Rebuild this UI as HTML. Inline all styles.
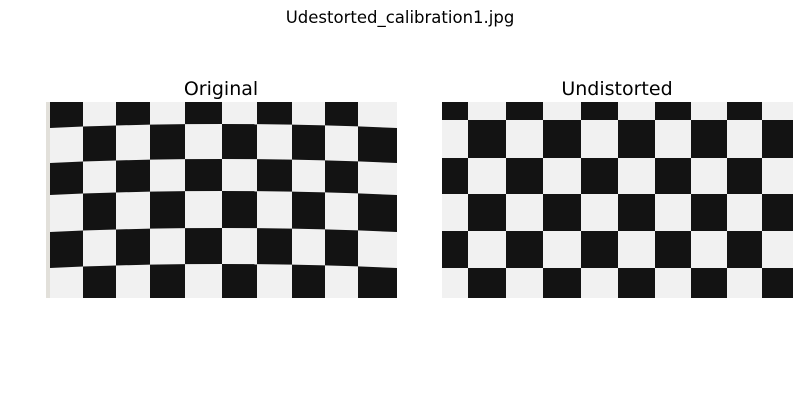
<!DOCTYPE html>
<html><head><meta charset="utf-8"><style>
body{margin:0;background:#fff;width:800px;height:400px;overflow:hidden;font-family:"DejaVu Sans","Liberation Sans",sans-serif}
</style></head><body>
<svg width="800" height="400">
<text x="400" y="23" text-anchor="middle" font-size="16.5" fill="#000">Udestorted_calibration1.jpg</text>
<text x="221" y="95" text-anchor="middle" font-size="19" fill="#000">Original</text>
<text x="617" y="95" text-anchor="middle" font-size="19" fill="#000">Undistorted</text>
<g id="orig"></g>
<g id="und"></g>
</svg>
<script>
const origCols=[46,83,116,150,185,222,257,292,325,358,397];
const origRows=[102,128,163,195,232,268,298];
const undCols=[442,468,506,543,581,618,655,691,727,762,793];
const undRows=[102,120,158,194,231,268,298];
const NS="http://www.w3.org/2000/svg";
function draw(gid,cols,rows,bow,edge){
  const g=document.getElementById(gid);
  const x0=cols[0],x1=cols[cols.length-1],y0=rows[0],y1=rows[rows.length-1];
  const cx=(x0+x1)/2,hw=(x1-x0)/2;
  const bg=document.createElementNS(NS,'rect');
  bg.setAttribute('x',x0);bg.setAttribute('y',y0);bg.setAttribute('width',x1-x0);bg.setAttribute('height',y1-y0);
  bg.setAttribute('fill','#f1f1f1');
  
  
  g.appendChild(bg);
  if(edge){
    const e=document.createElementNS(NS,'rect');
    e.setAttribute('x',x0);e.setAttribute('y',y0);e.setAttribute('width',4);e.setAttribute('height',y1-y0);e.setAttribute('fill','#e2e0da');
    
    
    g.appendChild(e);
  }
  function P(x,y){
    const t=(x-cx)/hw;let yy=y;
    if(y>y0&&y<y1) yy=y-bow*(1-t*t);
    let xx=x; if(edge&&x===x0) xx=x0+4;
    return [Math.max(x0,Math.min(x1,xx)),yy];
  }
  for(let r=0;r<rows.length-1;r++)for(let c=0;c<cols.length-1;c++){
    if((r+c)%2) continue;
    const pts=[P(cols[c],rows[r]),P(cols[c+1],rows[r]),P(cols[c+1],rows[r+1]),P(cols[c],rows[r+1])];
    const p=document.createElementNS(NS,'polygon');
    p.setAttribute('points',pts.map(a=>a.join(',')).join(' '));
    p.setAttribute('fill','#131313');
    
    
    g.appendChild(p);
  }
}
draw('orig',origCols,origRows,4,true);
draw('und',undCols,undRows,0,false);
</script>
</body></html>
